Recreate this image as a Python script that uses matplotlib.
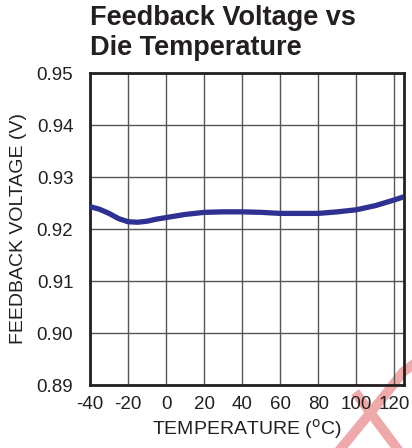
import numpy as np
import matplotlib
matplotlib.use("Agg")
import matplotlib.pyplot as plt
from matplotlib.lines import Line2D

plt.rcParams['font.family'] = ['Liberation Sans', 'DejaVu Sans']
plt.rcParams['axes.unicode_minus'] = False

# data
temp = [-40, -35, -30, -25, -20, -15, -10, -5, 0, 10, 20, 30, 40, 50, 60, 70, 80, 90, 100, 110, 120, 125]
vfb = [0.9243, 0.9238, 0.9230, 0.9220, 0.9214, 0.9213, 0.9215, 0.9219, 0.9222, 0.9228, 0.9232, 0.9233,
       0.9233, 0.9232, 0.9230, 0.9230, 0.9230, 0.9233, 0.9237, 0.9245, 0.9256, 0.9262]
xticks = [-40, -20, 0, 20, 40, 60, 80, 100, 120]
yticks = [0.89, 0.90, 0.91, 0.92, 0.93, 0.94, 0.95]

W, H = 412, 448
fig = plt.figure(figsize=(W / 100, H / 100), dpi=100)
ax = fig.add_axes([90 / W, 1 - 385 / H, (404 - 90) / W, (385 - 73) / H])
ax.set_facecolor('none')

ax.plot(temp, vfb, color='#2e3192', lw=3.8, solid_capstyle='butt', zorder=3)
ax.set_xlim(-40, 125)
ax.set_ylim(0.89, 0.95)
ax.set_xticks(xticks)
ax.set_yticks(yticks)
ax.set_yticklabels([f'{v:.2f}' for v in yticks])
ax.grid(True, color='#555555', lw=1.0)
ax.tick_params(length=0, labelsize=13.5, colors='#231f20')
ax.tick_params(axis='y', pad=12)
ax.tick_params(axis='x', pad=8)
for s in ax.spines.values():
    s.set_linewidth(2.0)
    s.set_color('#231f20')

ax.set_xlabel('TEMPERATURE ($^{\\mathrm{o}}$C)', fontsize=14, color='#231f20', labelpad=3)
ax.set_ylabel('FEEDBACK VOLTAGE (V)', fontsize=14, color='#231f20', labelpad=7)

fig.text(90 / W, 1 - 5 / H, 'Feedback Voltage vs\nDie Temperature', fontsize=19.5,
         fontweight='bold', color='#231f20', ha='left', va='top', linespacing=1.2)

# light red watermark strokes in the lower right corner
wm = '#eeaaaa'
fig.add_artist(Line2D(np.array([338, 385, 403, 414]) / W, 1 - np.array([452, 395, 372, 364]) / H,
                      transform=fig.transFigure, color=wm, lw=7, zorder=-1))
fig.add_artist(Line2D(np.array([358, 399]) / W, 1 - np.array([396, 451]) / H,
                      transform=fig.transFigure, color=wm, lw=7, zorder=-1))

fig.savefig('out.png', dpi=100)
